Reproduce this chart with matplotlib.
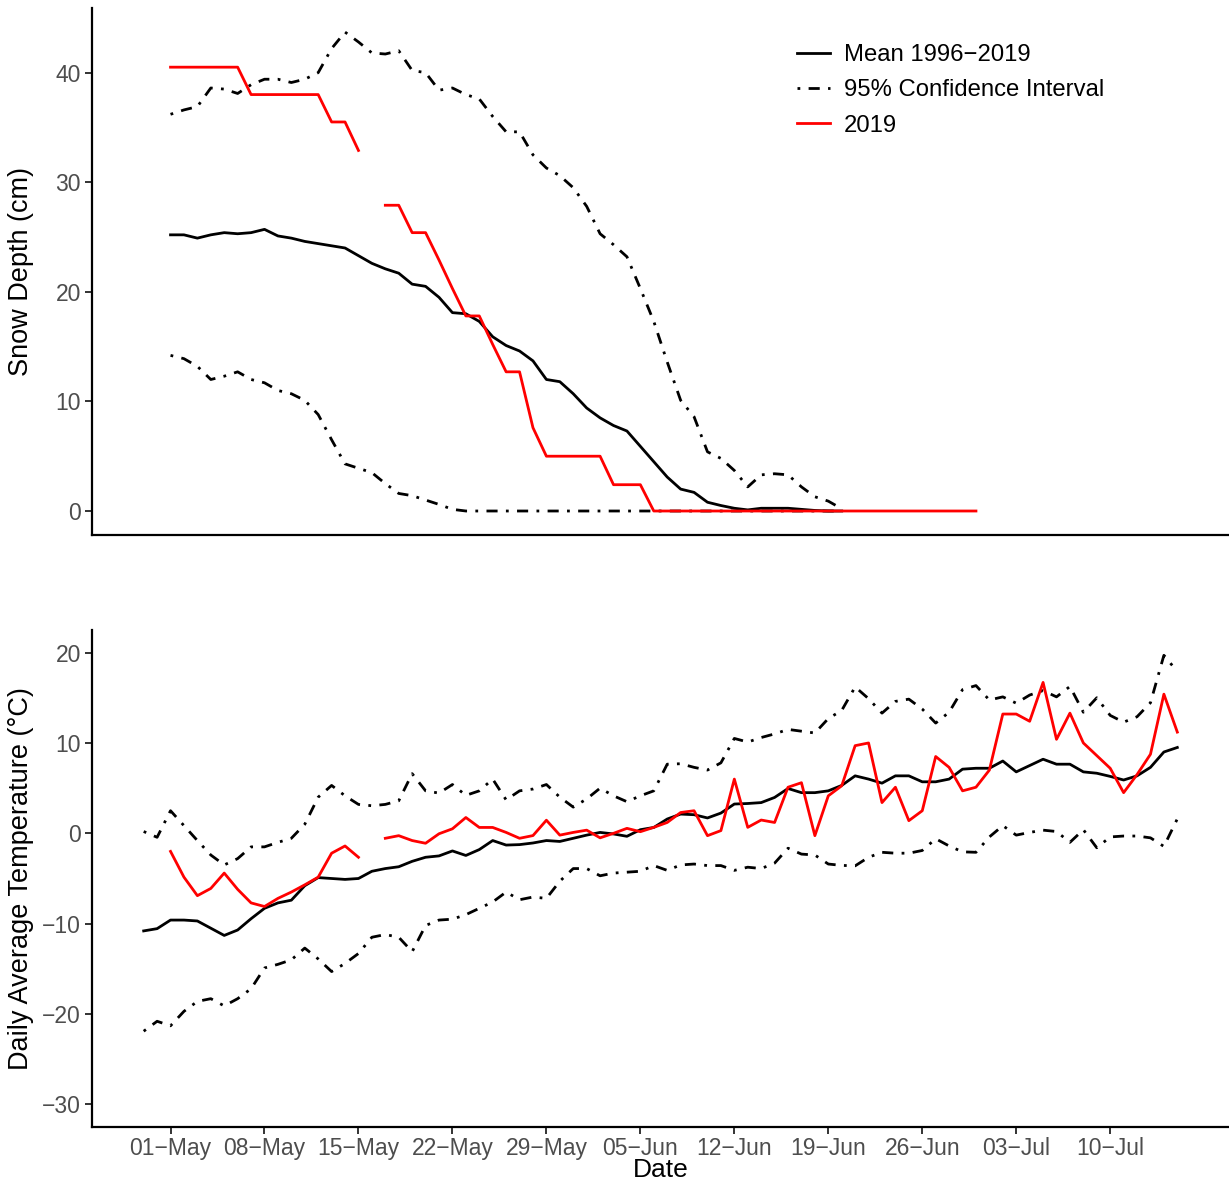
import numpy as np
import pandas as pd
import matplotlib
matplotlib.use("Agg")
import matplotlib.pyplot as plt

plt.rcParams['font.family'] = ['Liberation Sans', 'DejaVu Sans']

nan = np.nan

# snow depth (cm), daily from 01-May
snow_mean = [25.2, 25.2, 24.9, 25.2, 25.4, 25.3, 25.4, 25.7, 25.1, 24.9,
             24.6, 24.4, 24.2, 24.0, 23.3, 22.6, 22.1, 21.7, 20.7, 20.5,
             19.5, 18.1, 18.0, 17.3, 15.9, 15.1, 14.6, 13.7, 12.0, 11.8,
             10.7, 9.4, 8.5, 7.8, 7.3, 5.9, 4.5, 3.1, 2.0, 1.7,
             0.8, 0.5, 0.25, 0.1, 0.25, 0.25, 0.25, 0.15, 0.05, 0.0, 0.0]
snow_upper = [36.2, 36.6, 36.9, 38.6, 38.5, 38.1, 38.9, 39.4, 39.4, 39.1,
              39.4, 40.0, 42.2, 43.7, 42.8, 41.8, 41.7, 42.0, 40.2, 40.0,
              38.4, 38.6, 38.0, 37.6, 36.0, 34.6, 34.6, 32.5, 31.3, 30.6,
              29.5, 27.8, 25.3, 24.3, 23.2, 20.3, 17.3, 13.6, 10.1, 8.6,
              5.4, 4.8, 3.7, 2.2, 3.3, 3.4, 3.3, 2.2, 1.3, 0.9, 0.2]
snow_lower = [14.2, 13.9, 13.2, 12.0, 12.3, 12.7, 12.0, 11.7, 11.0, 10.7,
              10.1, 8.8, 6.5, 4.3, 3.9, 3.5, 2.5, 1.6, 1.4, 1.0,
              0.6, 0.15, 0, 0, 0, 0, 0, 0, 0, 0,
              0, 0, 0, 0, 0, 0, 0, 0, 0, 0,
              0, 0, 0, 0, 0, 0, 0, 0, 0, 0, 0]
snow_2019 = [40.5, 40.5, 40.5, 40.5, 40.5, 40.5, 38.0, 38.0, 38.0, 38.0,
             38.0, 38.0, 35.5, 35.5, 32.9, nan, 27.9, 27.9, 25.4, 25.4,
             22.9, 20.3, 17.8, 17.8, 15.2, 12.7, 12.7, 7.6, 5.0, 5.0,
             5.0, 5.0, 5.0, 2.4, 2.4, 2.4, 0, 0, 0, 0,
             0, 0, 0, 0, 0, 0, 0, 0, 0, 0,
             0, 0, 0, 0, 0, 0, 0, 0, 0, 0, 0]

# daily average temperature (deg C), daily from 29-Apr
temp_mean = [-10.8, -10.55, -9.6, -9.6, -9.7, -10.5, -11.3, -10.7, -9.45, -8.3,
             -7.7, -7.4, -5.8, -4.9, -5.0, -5.1, -5.0, -4.2, -3.9, -3.7,
             -3.1, -2.65, -2.5, -1.95, -2.45, -1.8, -0.8, -1.3, -1.25, -1.07,
             -0.8, -0.9, -0.55, -0.2, 0.1, -0.07, -0.33, 0.4, 0.65, 1.58,
             2.13, 2.06, 1.7, 2.24, 3.24, 3.3, 3.4, 3.97, 4.96, 4.5,
             4.5, 4.7, 5.3, 6.36, 6.0, 5.55, 6.36, 6.36, 5.7, 5.7,
             6.0, 7.1, 7.2, 7.2, 8.0, 6.8, 7.5, 8.2, 7.65, 7.65,
             6.8, 6.65, 6.3, 5.9, 6.36, 7.3, 9.0, 9.5]
temp_upper = [0.2, -0.44, 2.5, 0.85, -0.8, -2.4, -3.5, -2.8, -1.5, -1.5,
              -1.0, -0.55, 1.0, 4.0, 5.3, 4.15, 3.2, 3.05, 3.2, 3.6,
              6.6, 4.7, 4.45, 5.4, 4.2, 4.7, 6.0, 3.7, 4.7, 4.9,
              5.4, 4.0, 2.9, 3.8, 5.0, 4.15, 3.5, 4.15, 4.7, 7.65,
              7.7, 7.3, 7.0, 7.8, 10.5, 10.1, 10.6, 11.0, 11.5, 11.3,
              11.1, 12.7, 13.6, 16.2, 14.9, 13.3, 14.6, 14.85, 13.75, 12.2,
              13.4, 15.9, 16.35, 14.75, 15.1, 14.4, 15.3, 15.8, 15.1, 16.25,
              13.4, 15.0, 13.05, 12.3, 12.9, 14.45, 19.7, 17.9]
temp_lower = [-21.9, -20.8, -21.3, -19.7, -18.6, -18.3, -19.1, -18.3, -17.2, -14.9,
              -14.5, -14.0, -12.7, -13.9, -15.3, -14.4, -13.3, -11.5, -11.2, -11.5,
              -13.1, -10.2, -9.6, -9.5, -9.0, -8.3, -7.6, -6.5, -7.35, -7.05,
              -7.2, -5.3, -3.9, -3.9, -4.7, -4.4, -4.3, -4.2, -3.57, -4.1,
              -3.5, -3.4, -3.57, -3.57, -4.1, -3.75, -3.9, -3.3, -1.65, -2.3,
              -2.4, -3.4, -3.55, -3.6, -2.65, -2.1, -2.2, -2.2, -1.9, -0.6,
              -1.4, -2.05, -2.1, -0.4, 0.85, -0.2, 0.1, 0.35, 0.2, -1.0,
              0.4, -1.6, -0.4, -0.3, -0.3, -0.5, -1.45, 1.6]
temp_2019 = [nan, nan, -2.0, -4.85, -6.9, -6.1, -4.4, -6.2, -7.7, -8.1,
             -7.2, -6.5, -5.7, -4.85, -2.2, -1.4, -2.65, nan, -0.55, -0.26,
             -0.8, -1.1, -0.05, 0.5, 1.75, 0.65, 0.65, 0.1, -0.55, -0.25,
             1.45, -0.2, 0.1, 0.35, -0.5, 0.0, 0.55, 0.18, 0.66, 1.2,
             2.3, 2.5, -0.26, 0.3, 6.0, 0.66, 1.47, 1.2, 5.1, 5.6,
             -0.26, 4.15, 5.26, 9.7, 10.0, 3.4, 5.1, 1.4, 2.5, 8.5,
             7.3, 4.7, 5.1, 7.0, 13.2, 13.2, 12.4, 16.7, 10.4, 13.3,
             10.0, 8.6, 7.2, 4.5, 6.5, 8.75, 15.4, 11.2]

tick_dates = ["2019-05-01", "2019-05-08", "2019-05-15", "2019-05-22", "2019-05-29",
              "2019-06-05", "2019-06-12", "2019-06-19", "2019-06-26", "2019-07-03",
              "2019-07-10"]
tick_labels = ["01−May", "08−May", "15−May", "22−May", "29−May", "05−Jun",
               "12−Jun", "19−Jun", "26−Jun", "03−Jul", "10−Jul"]

snow_dates = pd.date_range("2019-05-01", periods=len(snow_mean))
snow_2019_dates = pd.date_range("2019-05-01", periods=len(snow_2019))
temp_dates = pd.date_range("2019-04-29", periods=len(temp_mean))

# ggplot-style 5% expansion of the date range, shared by both panels
pad = (temp_dates[-1] - temp_dates[0]) * 0.05
xlim = (temp_dates[0] - pad, temp_dates[-1] + pad)

W, H = 1229, 1187
fig = plt.figure(figsize=(W / 100, H / 100), dpi=100)
ax1 = fig.add_axes([92 / W, 1 - 535 / H, 1137 / W, 527 / H])
ax2 = fig.add_axes([92 / W, 1 - 1127 / H, 1137 / W, 497 / H])

dotdash = (0, (1, 3, 4, 3))
lw = 2.0

ax1.plot(snow_dates, snow_mean, color="black", lw=lw, label="Mean 1996−2019")
ax1.plot(snow_dates, snow_upper, color="black", lw=lw, ls=dotdash,
         label="95% Confidence Interval")
ax1.plot(snow_dates, snow_lower, color="black", lw=lw, ls=dotdash)
ax1.plot(snow_2019_dates, snow_2019, color="red", lw=lw, label="2019")

ax2.plot(temp_dates, temp_mean, color="black", lw=lw)
ax2.plot(temp_dates, temp_upper, color="black", lw=lw, ls=dotdash)
ax2.plot(temp_dates, temp_lower, color="black", lw=lw, ls=dotdash)
ax2.plot(temp_dates, temp_2019, color="red", lw=lw)

ax1.set_ylim(-2.19, 45.9)
ax1.set_yticks([0, 10, 20, 30, 40])
ax2.set_ylim(-32.5, 22.5)
ax2.set_yticks([-30, -20, -10, 0, 10, 20])

for ax in (ax1, ax2):
    ax.set_xlim(xlim)
    for side in ("top", "right"):
        ax.spines[side].set_visible(False)
    for side in ("left", "bottom"):
        ax.spines[side].set_linewidth(1.6)
    ax.tick_params(axis="both", length=5, width=1.4, color="#333333",
                   labelcolor="#4D4D4D", labelsize=16.5, pad=3)

ax1.tick_params(axis="x", bottom=False, labelbottom=False)
ax2.set_xticks(pd.to_datetime(tick_dates))
ax2.set_xticklabels(tick_labels)
ax2.tick_params(axis="x", pad=2)

ax1.set_ylabel("Snow Depth (cm)", fontsize=19.5)
ax2.set_ylabel("Daily Average Temperature (°C)", fontsize=19.5)
ax1.yaxis.set_label_coords(-0.051, 0.5)
ax2.yaxis.set_label_coords(-0.051, 0.5)
ax2.set_xlabel("Date", fontsize=19, labelpad=-1)

fig.legend(handles=ax1.get_lines()[:2] + ax1.get_lines()[3:], loc="upper left",
           bbox_to_anchor=(797 / W, 1 - 44 / H), bbox_transform=fig.transFigure,
           frameon=False, fontsize=17.2, handlelength=1.4, handletextpad=0.55,
           labelspacing=0.56, borderpad=0, borderaxespad=0)

fig.savefig("out.png", dpi=100)
